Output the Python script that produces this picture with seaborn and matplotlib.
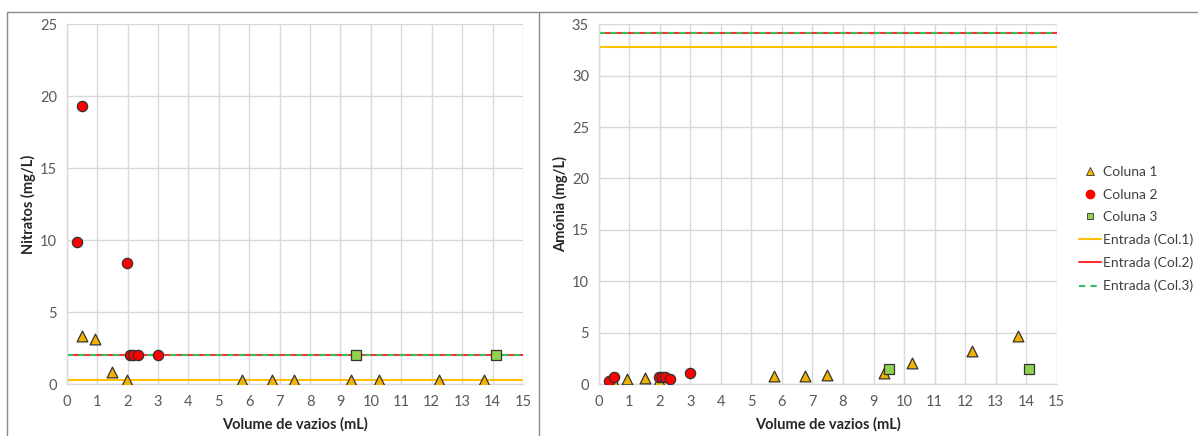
import numpy as np
import pandas as pd
import matplotlib
matplotlib.use("Agg")
import matplotlib.pyplot as plt
from matplotlib.lines import Line2D
import seaborn as sns

# ---- data ----
col1_x = [0.5, 0.93, 1.5, 1.99, 5.75, 6.76, 7.47, 9.34, 10.27, 12.23, 13.72]
col1_nitratos = [3.35, 3.15, 0.86, 0.28, 0.28, 0.28, 0.28, 0.28, 0.28, 0.28, 0.28]
col1_amonia = [0.16, 0.45, 0.58, 0.36, 0.78, 0.78, 0.84, 1.1, 2.0, 3.18, 4.68]

col2_x = [0.34, 0.51, 1.99, 2.08, 2.17, 2.35, 3.0]
col2_nitratos = [9.87, 19.3, 8.4, 2.0, 2.0, 2.0, 2.0]
col2_amonia = [0.28, 0.65, 0.65, 0.68, 0.72, 0.5, 1.07]

col3_x = [9.52, 14.1]
col3_nitratos = [2.0, 2.0]
col3_amonia = [1.46, 1.43]

entrada_nitratos = {"Col.1": 0.28, "Col.2": 2.0, "Col.3": 2.0}
entrada_amonia = {"Col.1": 32.8, "Col.2": 34.2, "Col.3": 34.2}

x_ticks = list(range(0, 16))
y_ticks_nit = list(range(0, 26, 5))
y_ticks_amo = list(range(0, 36, 5))

# ---- style ----
sns.set_style("white")
plt.rcParams["font.family"] = ["Lato", "DejaVu Sans"]

c1_fill, c2_fill, c3_fill = "#F2B200", "#FF0000", "#92D050"
l1, l2, l3 = "#FFC000", "#FF3030", "#33C060"
edge = "#333333"
tick_col = "#595959"
grid_col = "#D9D9D9"

fig = plt.figure(figsize=(11.98, 4.36), dpi=100)
ax1 = fig.add_axes([66.7 / 1198, 1 - 384 / 436, (523 - 66.7) / 1198, (384 - 24.3) / 436])
ax2 = fig.add_axes([598.7 / 1198, 1 - 384 / 436, (1056.7 - 598.7) / 1198, (384 - 24.3) / 436])


def draw(ax, y1, y2, y3, entrada, yticks, ylabel):
    ax.set_xlim(0, 15)
    ax.set_ylim(0, yticks[-1])
    ax.set_xticks(x_ticks)
    ax.set_yticks(yticks)
    ax.grid(True, color=grid_col, linewidth=1.0, zorder=0)
    ax.set_axisbelow(True)
    for s in ["top", "right"]:
        ax.spines[s].set_visible(False)
    for s in ["left", "bottom"]:
        ax.spines[s].set_color(grid_col)
        ax.spines[s].set_linewidth(1.0)
    ax.tick_params(axis="both", colors=tick_col, labelsize=10.5, length=4,
                   color=grid_col, width=1, pad=3)
    ax.tick_params(axis="x", length=0, pad=8)

    ax.axhline(entrada["Col.1"], color=l1, linewidth=1.5, zorder=2)
    ax.axhline(entrada["Col.2"], color=l2, linewidth=1.5, zorder=2)
    ax.axhline(entrada["Col.3"], color=l3, linewidth=1.5, linestyle=(0, (3, 2.5)), zorder=2)

    df1 = pd.DataFrame({"x": col1_x, "y": y1})
    df2 = pd.DataFrame({"x": col2_x, "y": y2})
    df3 = pd.DataFrame({"x": col3_x, "y": y3})
    sns.scatterplot(data=df1, x="x", y="y", ax=ax, marker="^", s=60, color=c1_fill,
                    edgecolor=edge, linewidth=0.9, zorder=4, legend=False)
    sns.scatterplot(data=df2, x="x", y="y", ax=ax, marker="o", s=55, color=c2_fill,
                    edgecolor=edge, linewidth=0.9, zorder=5, legend=False)
    sns.scatterplot(data=df3, x="x", y="y", ax=ax, marker="s", s=48, color=c3_fill,
                    edgecolor=edge, linewidth=0.9, zorder=4, legend=False)
    ax.set_xlabel("Volume de vazios (mL)", fontsize=10.5, fontweight="bold", color="#262626", labelpad=6)
    ax.set_ylabel(ylabel, fontsize=10.5, fontweight="bold", color="#262626", labelpad=3)


draw(ax1, col1_nitratos, col2_nitratos, col3_nitratos, entrada_nitratos, y_ticks_nit, "Nitratos (mg/L)")
draw(ax2, col1_amonia, col2_amonia, col3_amonia, entrada_amonia, y_ticks_amo, "Amónia (mg/L)")

# chart frames
frame_col = "#8C8C8C"
fig.add_artist(Line2D([7.3 / 1198, 7.3 / 1198], [0, 1 - 11.7 / 436], transform=fig.transFigure, color=frame_col, lw=1))
fig.add_artist(Line2D([7.3 / 1198, 1], [1 - 11.7 / 436, 1 - 11.7 / 436], transform=fig.transFigure, color=frame_col, lw=1))
fig.add_artist(Line2D([539.3 / 1198, 539.3 / 1198], [0, 1 - 11.7 / 436], transform=fig.transFigure, color=frame_col, lw=1))

handles = [
    Line2D([], [], linestyle="none", marker="^", markersize=5.5, markerfacecolor=c1_fill, markeredgecolor=edge, markeredgewidth=0.6),
    Line2D([], [], linestyle="none", marker="o", markersize=6, markerfacecolor=c2_fill, markeredgecolor=c2_fill),
    Line2D([], [], linestyle="none", marker="s", markersize=5, markerfacecolor=c3_fill, markeredgecolor=edge, markeredgewidth=0.6),
    Line2D([], [], color=l1, lw=1.5),
    Line2D([], [], color=l2, lw=1.5),
    Line2D([], [], color=l3, lw=1.5, linestyle=(0, (3, 2.5))),
]
labels = ["Coluna 1", "Coluna 2", "Coluna 3", "Entrada (Col.1)", "Entrada (Col.2)", "Entrada (Col.3)"]
fig.legend(handles, labels, loc="upper left", bbox_to_anchor=(1079 / 1198, 1 - 166 / 436),
           frameon=False, fontsize=10, handlelength=1.6, handletextpad=0.15,
           labelspacing=0.76, borderpad=0, borderaxespad=0, labelcolor="#404040")

fig.savefig("out.png", dpi=100)
